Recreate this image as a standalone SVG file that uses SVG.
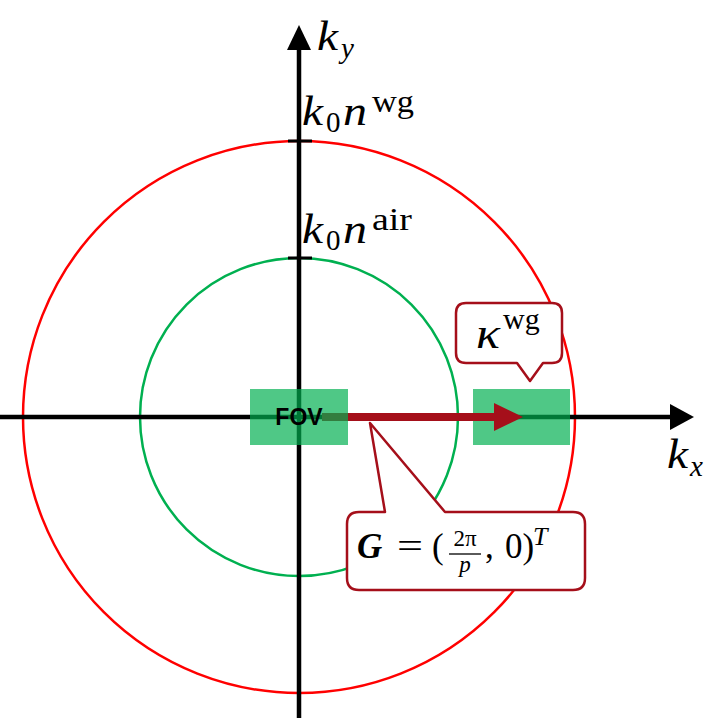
<svg xmlns="http://www.w3.org/2000/svg" width="720" height="719" viewBox="0 0 720 719">
<style>
.m{font-family:"Liberation Serif","DejaVu Serif",serif;font-style:italic;fill:#000}
.r{font-family:"Liberation Serif","DejaVu Serif",serif;font-style:normal;fill:#000}
.ax{stroke:#000;stroke-width:4.5;fill:none}
.tick{stroke:#000;stroke-width:3}
.call{fill:#fff;stroke:#A50F1A;stroke-width:2.5;stroke-linejoin:round}
.fov{fill:#00B050;fill-opacity:0.69}
</style>
<rect width="720" height="719" fill="#fff"/>
<g id="circles">
<circle id="wg-circle" cx="299" cy="417" r="276" fill="none" stroke="#FF0000" stroke-width="2.5"/>
<circle id="air-circle" cx="299" cy="417" r="159" fill="none" stroke="#00B050" stroke-width="2.5"/>
</g>
<g id="axes">
<line class="ax" x1="299" y1="718" x2="299" y2="48"/>
<polygon points="287,50 299,25 311,50" fill="#000"/>
<line class="ax" x1="0" y1="417" x2="672" y2="417"/>
<polygon points="670,404 694,417 670,430" fill="#000"/>
<line class="tick" x1="288" y1="141" x2="312" y2="141"/>
<line class="tick" x1="288" y1="258" x2="312" y2="258"/>
</g>
<g id="shifted">
<rect class="fov" x="473" y="389" width="97" height="56"/>
</g>
<g id="connectors">
<line x1="322" y1="417" x2="497" y2="417" stroke="#A50F1A" stroke-width="8"/>
<polygon points="494,403 523,417 494,431" fill="#A50F1A"/>
</g>
<g id="fov">
<rect class="fov" x="250" y="389" width="98" height="56"/>
<text x="299" y="425" text-anchor="middle" font-family="Liberation Sans,Arial,sans-serif" font-weight="bold" font-size="23">FOV</text>
</g>
<g id="label-ky">
<text class="m" x="317" y="50" font-size="42" textLength="21" lengthAdjust="spacingAndGlyphs">k</text>
<text class="m" x="341" y="58" font-size="29">y</text>
</g>
<g id="label-kx">
<text class="m" x="667" y="468" font-size="42" textLength="21" lengthAdjust="spacingAndGlyphs">k</text>
<text class="m" x="690" y="476" font-size="29">x</text>
</g>
<g id="label-nwg">
<text class="m" x="302" y="125" font-size="42" textLength="21" lengthAdjust="spacingAndGlyphs">k</text>
<text class="r" x="326" y="132" font-size="29">0</text>
<text class="m" x="343" y="125" font-size="42" textLength="24" lengthAdjust="spacingAndGlyphs">n</text>
<text class="r" x="372" y="112" font-size="31" textLength="42" lengthAdjust="spacingAndGlyphs">wg</text>
</g>
<g id="label-nair">
<text class="m" x="302" y="243" font-size="42" textLength="21" lengthAdjust="spacingAndGlyphs">k</text>
<text class="r" x="326" y="250" font-size="29">0</text>
<text class="m" x="343" y="243" font-size="42" textLength="24" lengthAdjust="spacingAndGlyphs">n</text>
<text class="r" x="372" y="230" font-size="31" textLength="40" lengthAdjust="spacingAndGlyphs">air</text>
</g>
<g id="callout-kappa">
<path class="call" d="M466,303 H552 Q562,303 562,313 V353 Q562,363 552,363 H543 L530,381 L517,363 H466 Q456,363 456,353 V313 Q456,303 466,303 Z"/>
<text class="m" x="476" y="348" font-size="44" textLength="24" lengthAdjust="spacingAndGlyphs">κ</text>
<text class="r" x="503" y="329" font-size="30">wg</text>
</g>
<g id="callout-G">
<path class="call" d="M359,512 H385 L370,423 L445,512 H573 Q585,512 585,524 V578 Q585,590 573,590 H359 Q347,590 347,578 V524 Q347,512 359,512 Z"/>
<text class="m" x="357" y="558" font-size="35" font-weight="bold">G</text>
<text class="r" x="397" y="558" font-size="35" textLength="26" lengthAdjust="spacingAndGlyphs">=</text>
<text class="r" x="432" y="558" font-size="35">(</text>
<text class="r" x="465" y="546" font-size="23" text-anchor="middle">2π</text>
<line x1="449" y1="554" x2="481" y2="554" stroke="#000" stroke-width="1.3"/>
<text class="m" x="465" y="572" font-size="23" text-anchor="middle">p</text>
<text class="r" x="485" y="558" font-size="35">,</text>
<text class="r" x="505" y="558" font-size="35">0)</text>
<text class="m" x="533" y="545" font-size="26">T</text>
</g>
</svg>
